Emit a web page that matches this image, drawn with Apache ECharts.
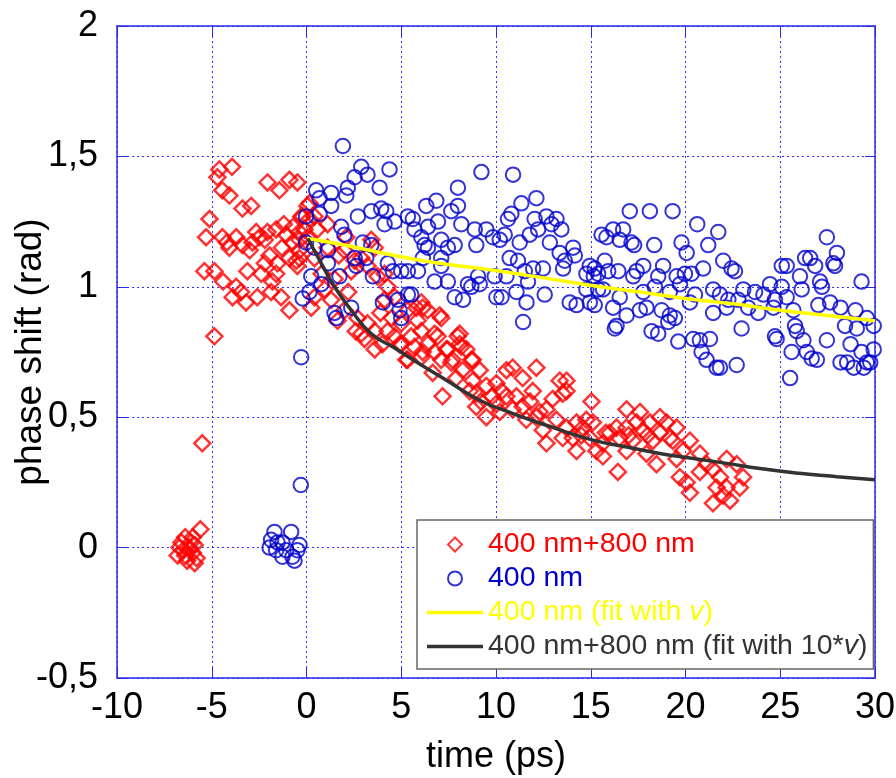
<!DOCTYPE html>
<html>
<head>
<meta charset="utf-8">
<script src="https://cdn.jsdelivr.net/npm/echarts@6/dist/echarts.min.js"></script>
<style>html,body{margin:0;padding:0;background:#fff}#c{width:896px;height:778px}</style>
</head>
<body>
<div id="c"></div>
<script>
// ---- data ----
const xTicks = [-10, -5, 0, 5, 10, 15, 20, 25, 30];
const yTicks = [-0.5, 0, 0.5, 1, 1.5, 2];
const seriesNames = ['400 nm+800 nm', '400 nm', '400 nm (fit with v)', '400 nm+800 nm (fit with 10*v)'];

const redPoints = [
  [-6.8,-0.03],[-6.6,0.02],[-6.4,0.04],[-6.2,0.0],[-6.0,-0.02],[-6.3,-0.05],[-5.9,0.01],[-6.5,-0.01],
  [-6.1,0.02],[-5.8,-0.04],[-5.6,0.07],[-6.7,0.0],[-6.0,0.04],[-5.9,-0.06],[-6.4,-0.03],
  [-5.5,0.40],[-4.86,0.81],
  [-4.6,1.45],[-3.93,1.46],[-4.7,1.42],[-4.44,1.37],[-4.07,1.35],[-3.38,1.30],[-2.92,1.31],[-2.06,1.40],
  [-1.43,1.37],[-0.9,1.41],[-0.48,1.40],[-5.12,1.26],[-5.3,1.19],[-4.44,1.19],[-4.07,1.15],[-3.71,1.19],
  [-3.38,1.16],[-2.85,1.17],[-2.48,1.19],[-2.06,1.21],[-1.6,1.22],[-1.07,1.20],[-1.95,1.12],[-1.53,1.09],
  [-0.9,1.11],[-0.54,1.10],[-5.39,1.06],[-4.86,1.06],[-3.12,1.06],[-2.39,1.05],[-1.8,1.02],[-3.71,1.0],
  [-3.9,0.96],[-3.45,0.98],[-3.19,0.94],[-1.87,0.98],[-1.34,0.96],[-0.9,0.91],[-0.2,1.27],[-0.37,1.21],
  [-0.74,1.17],[-0.37,1.14],[0.16,1.26],[0.05,1.19],[0.16,1.32],[0.42,1.27],
  [-4.2,1.17],[-3.0,1.14],[-2.65,1.21],[-2.2,1.18],[-1.3,1.15],[-1.2,1.24],[-0.7,1.23],[-2.2,1.09],
  [-1.6,1.05],[-2.6,0.96],[-4.4,1.02],
  [0.05,1.31],[-0.28,1.27],[1.11,1.24],[-0.1,1.22],[0.58,1.22],[-0.37,1.18],[-0.37,1.11],[-0.48,1.08],
  [0.42,1.11],[1.11,1.15],[2.0,1.14],[2.1,1.19],[2.54,1.10],[3.42,1.18],[3.6,1.15],[2.89,1.11],
  [2.36,1.06],[3.22,1.08],[3.75,1.04],[4.12,1.05],[4.28,1.0],[4.12,0.95],[4.65,0.96],[1.48,1.03],
  [0.95,0.99],[0.42,0.96],[1.3,0.95],[0.25,0.92],[2.0,0.91],[1.64,0.87],[2.69,0.88],[3.22,0.86],
  [2.89,0.82],[3.6,0.83],[3.06,0.80],[3.6,0.76],[4.28,0.83],[4.65,0.81],[5.0,0.86],[5.34,0.91],
  [0.8,1.05],[1.7,1.12],[2.2,0.98],[3.9,0.90],[4.5,0.88],[4.0,0.78],[2.6,0.83],[5.8,0.92],
  [6.06,0.94],[6.39,0.91],[7.11,0.88],[5.86,0.87],[6.06,0.83],[6.76,0.82],[5.53,0.81],[5.0,0.78],
  [5.7,0.77],[6.39,0.78],[6.92,0.81],[5.34,0.72],[6.06,0.73],[6.76,0.75],[7.45,0.76],[7.98,0.81],
  [8.17,0.77],[8.7,0.72],[7.64,0.71],[7.11,0.72],
  [6.13,0.92],[7.03,0.89],[8.08,0.82],[8.08,0.78],[8.44,0.76],[7.38,0.76],[7.71,0.72],[8.77,0.72],
  [8.24,0.68],[9.14,0.68],[8.77,0.64],[9.49,0.62],[10.02,0.63],[7.18,0.58],[8.96,0.54],[9.49,0.50],
  [10.2,0.52],[10.55,0.68],[10.88,0.69],[12.13,0.69],[11.41,0.65],[11.94,0.60],[11.08,0.58],[10.55,0.58],
  [11.41,0.54],[10.88,0.53],[12.13,0.50],[11.6,0.49],[12.66,0.53],[12.99,0.57],[13.36,0.64],[13.52,0.59],
  [13.19,0.49],[12.47,0.45],[12.66,0.40],[13.52,0.42],[5.27,0.72],[4.91,0.78],[6.13,0.75],[6.66,0.67],
  [8.96,0.59],[7.9,0.65],[8.61,0.60],[9.8,0.58],[10.3,0.60],[9.2,0.56],[11.8,0.56],[12.3,0.52],[10.0,0.55],
  [13.72,0.64],[13.72,0.60],[15.04,0.56],[14.25,0.48],[14.05,0.42],[14.25,0.37],[15.11,0.48],[14.95,0.42],
  [15.3,0.37],[15.64,0.35],[16.0,0.44],[16.36,0.46],[16.89,0.53],[16.43,0.29],[16.89,0.46],[17.42,0.48],
  [17.22,0.41],[17.75,0.45],[17.94,0.36],[18.47,0.32],[18.12,0.48],[18.65,0.50],[19.0,0.48],[19.53,0.46],
  [18.65,0.44],[18.28,0.41],[19.33,0.41],[19.53,0.34],[20.23,0.41],[19.86,0.37],[19.7,0.27],[20.06,0.25],
  [20.23,0.21],[20.76,0.36],[21.11,0.32],[20.76,0.29],[21.45,0.30],[21.82,0.27],[21.64,0.23],[22.17,0.23],
  [21.45,0.17],[22.35,0.18],[22.87,0.23],[23.04,0.27],[22.7,0.32],[22.17,0.34],[21.98,0.20],[13.72,0.46],
  [14.58,0.46],[14.77,0.49],[15.64,0.40],[17.6,0.52],[19.17,0.42],[16.89,0.37],[16.5,0.42],[17.0,0.43],
  [18.0,0.43],[15.8,0.44],[14.5,0.43]
];

const bluePoints = [
  [-1.69,0.06],[-0.81,0.06],[-1.87,0.03],[-1.95,0.0],[-1.53,0.02],[-1.27,0.02],[-1.07,-0.01],[-0.74,-0.035],
  [-0.48,-0.01],[-0.37,0.01],[-1.27,-0.035],[-0.63,-0.05],[-1.6,-0.01],[-0.3,0.24],[-0.28,0.73],
  [1.92,1.54],[2.89,1.46],[3.22,1.43],[2.54,1.42],[4.38,1.45],[2.18,1.38],[3.86,1.38],[0.51,1.37],
  [1.3,1.36],[0.69,1.34],[2.1,1.35],[1.3,1.31],[-0.02,1.27],[0.69,1.28],[2.71,1.27],[3.42,1.29],
  [3.94,1.30],[4.21,1.29],[4.12,1.24],[4.65,1.25],[1.83,1.23],[2.0,1.20],[-0.02,1.17],[0.42,1.15],
  [1.13,1.14],[2.97,1.17],[3.42,1.16],[2.54,1.11],[3.15,1.11],[1.13,1.09],[2.63,1.08],[4.29,1.09],
  [4.56,1.06],[3.5,1.04],[1.74,1.04],[0.25,1.04],[0.78,1.01],[0.16,0.98],[-0.2,0.955],[5.0,1.06],
  [5.35,0.97],[4.03,0.94],[4.82,0.95],[4.91,0.91],[5.0,0.88],[2.36,0.92],[1.48,0.90],[1.57,0.88],
  [5.35,1.27],[5.61,1.26],[5.7,1.22],[6.06,1.19],[6.41,1.23],[6.32,1.31],[6.85,1.33],[6.94,1.25],
  [7.64,1.29],[7.99,1.38],[7.99,1.31],[8.17,1.24],[8.88,1.22],[9.23,1.44],[6.41,1.15],[6.23,1.16],
  [7.11,1.18],[7.46,1.15],[7.82,1.16],[8.96,1.16],[7.11,1.11],[6.14,1.11],[7.11,1.08],[6.76,1.02],
  [7.46,1.02],[5.88,1.06],[5.35,1.06],[7.82,0.96],[8.26,0.95],[8.52,1.01],[8.7,1.0],[9.14,1.01],
  [9.05,1.04],[5.53,0.97],
  [10.9,1.43],[12.13,1.34],[11.34,1.32],[10.81,1.28],[10.63,1.26],[12.04,1.26],[12.66,1.27],
  [13.19,1.26],[13.45,1.22],[12.93,1.24],[12.22,1.22],[11.78,1.20],[9.49,1.22],[9.84,1.19],[10.2,1.18],
  [10.46,1.20],[11.25,1.17],[12.84,1.17],[13.36,1.13],[14.07,1.15],[14.16,1.12],[13.63,1.10],[13.54,1.07],
  [10.72,1.11],[11.16,1.10],[11.96,1.07],[12.48,1.07],[11.52,1.06],[9.93,1.04],[10.55,1.04],[11.69,1.02],
  [11.08,0.98],[10.02,0.96],[10.29,0.96],[12.57,0.97],[11.61,0.94],[11.43,0.865],[15.16,1.04],[13.89,0.94],
  [14.25,0.93],[14.77,1.05],[14.95,1.08],[15.21,1.07],[15.74,1.10],[15.39,1.05],[15.92,1.06],[16.45,1.06],
  [14.95,0.94],[15.21,0.93],[14.77,0.99],[15.39,0.99],[16.18,0.92],[16.89,0.89],[16.53,0.96],[16.36,0.85],
  [17.06,1.29],[16.71,1.22],[16.18,1.22],[15.57,1.20],[15.83,1.19],[16.53,1.18],[17.15,1.17],[17.42,1.06],
  [18.12,1.29],[19.32,1.29],[20.62,1.24],[21.73,1.21],[19.79,1.17],[20.06,1.13],[21.2,1.16],[18.35,1.16],
  [17.29,1.16],[21.99,1.10],[22.43,1.07],[22.61,1.06],[20.93,1.07],[18.82,1.08],[17.77,1.08],[17.24,1.04],
  [18.56,1.04],[19.53,1.04],[19.97,1.05],[20.32,1.05],[17.77,0.98],[18.38,1.0],[19.17,0.98],[19.71,1.01],
  [20.5,0.97],[21.46,0.99],[21.82,0.97],[22.26,0.95],[22.79,0.95],[23.05,0.99],[23.67,0.98],[24.11,0.97],
  [24.46,1.01],[25.08,1.08],[25.34,1.08],[26.04,1.04],[26.13,0.99],[26.31,1.11],[26.58,1.11],[26.84,1.08],
  [27.1,1.02],[27.2,1.0],[27.46,1.19],[27.99,1.13],[27.8,1.09],[27.89,1.08],[29.29,1.02],[25.08,1.0],
  [24.72,0.95],[25.34,0.96],[25.69,0.91],[27.01,0.93],[27.63,0.94],[28.18,0.92],[28.97,0.91],[29.57,0.88],
  [29.93,0.85],[15.65,0.99],[16.27,0.84],[17.59,0.91],[17.94,0.92],[18.74,0.91],[19.17,0.89],[19.44,0.88],
  [19.09,0.865],[18.21,0.83],[18.56,0.82],[19.62,0.79],[20.41,0.80],[20.76,0.795],[21.29,0.80],[20.85,0.75],
  [21.11,0.72],[21.64,0.69],[21.82,0.69],[22.7,0.70],[22.96,0.84],[21.46,0.90],[20.23,0.94],[22.17,0.92],
  [23.31,0.92],[23.84,0.90],[24.64,0.92],[24.72,0.81],[24.81,0.80],[25.78,0.85],[25.87,0.83],[26.22,0.795],
  [26.4,0.75],[26.93,0.72],[26.66,0.725],[25.6,0.75],[25.52,0.65],[27.46,0.795],[28.42,0.85],[29.04,0.84],
  [28.71,0.78],[29.29,0.75],[29.93,0.76],[28.18,0.71],[28.53,0.71],[28.88,0.69],[29.41,0.69],[29.57,0.71],
  [29.75,0.71]
];

const yellowFit = [
  [0.05,1.185],[2,1.16],[4.65,1.12],[7,1.09],[9.2,1.07],[12,1.04],[15.5,1.0],[17.6,0.98],
  [20,0.955],[22.5,0.935],[25,0.91],[27.5,0.89],[30,0.87]
];
const blackFit = [
  [0.07,1.185],[0.78,1.09],[1.48,1.0],[2.36,0.91],[3.42,0.82],[4.65,0.765],[6.06,0.70],[7.38,0.642],
  [9.14,0.565],[10.9,0.514],[12.66,0.469],[15.12,0.412],[16.89,0.386],[18.65,0.361],[20.41,0.342],
  [22.17,0.323],[23.93,0.303],[26,0.285],[28,0.272],[30,0.26]
];

// ---- chart ----
const FONT = '"Liberation Sans", Arial, sans-serif';
const AXIS_BLUE = '#2a2aee';
const GRID_BLUE = '#0000ff';
const fmt = v => String(v).replace('.', ',');

const chart = echarts.init(document.getElementById('c'), null, {renderer: 'canvas'});

const commonX = {
  type: 'value', min: xTicks[0], max: xTicks[xTicks.length - 1], interval: 5
};
const commonY = {
  type: 'value', min: yTicks[0], max: yTicks[yTicks.length - 1], interval: 0.5
};

chart.setOption({
  animation: false,
  backgroundColor: '#fff',
  grid: {left: 117, right: 21, top: 26, bottom: 100, containLabel: false, outerBoundsMode: 'none'},
  xAxis: [
    Object.assign({}, commonX, {
      position: 'bottom',
      name: 'time (ps)', nameLocation: 'middle', nameGap: 61, nameMoveOverlap: false,
      nameTextStyle: {fontSize: 36, fontFamily: FONT, color: '#000'},
      axisLine: {onZero: false, lineStyle: {color: AXIS_BLUE, width: 1.5}},
      axisTick: {inside: true, length: 10, lineStyle: {color: AXIS_BLUE, width: 1}},
      axisLabel: {fontSize: 36, fontFamily: FONT, color: '#000', margin: 12, formatter: fmt},
      splitLine: {show: true, lineStyle: {color: GRID_BLUE, type: [2, 3], width: 1, opacity: 0.8}}
    }),
    Object.assign({}, commonX, {
      position: 'top',
      axisLine: {onZero: false, lineStyle: {color: AXIS_BLUE, width: 1.5}},
      axisTick: {inside: true, length: 10, lineStyle: {color: AXIS_BLUE, width: 1}},
      axisLabel: {show: false}, splitLine: {show: false}
    })
  ],
  yAxis: [
    Object.assign({}, commonY, {
      position: 'left',
      name: 'phase shift (rad)', nameLocation: 'middle', nameGap: 68, nameMoveOverlap: false,
      nameTextStyle: {fontSize: 37, fontFamily: FONT, color: '#000'},
      axisLine: {onZero: false, lineStyle: {color: AXIS_BLUE, width: 1.5}},
      axisTick: {inside: true, length: 10, lineStyle: {color: AXIS_BLUE, width: 1}},
      axisLabel: {fontSize: 36, fontFamily: FONT, color: '#000', margin: 19, formatter: fmt},
      splitLine: {show: true, lineStyle: {color: GRID_BLUE, type: [2, 3], width: 1, opacity: 0.8}}
    }),
    Object.assign({}, commonY, {
      position: 'right',
      axisLine: {onZero: false, lineStyle: {color: AXIS_BLUE, width: 1.5}},
      axisTick: {inside: true, length: 10, lineStyle: {color: AXIS_BLUE, width: 1}},
      axisLabel: {show: false}, splitLine: {show: false}
    })
  ],
  legend: {
    orient: 'vertical', left: 417, top: 520,
    backgroundColor: '#fff', borderColor: '#666', borderWidth: 1.5, borderRadius: 0,
    padding: [10, 6, 8, 10], itemGap: 5, itemWidth: 56, itemHeight: 14,
    symbolKeepAspect: true,
    textStyle: {
      fontSize: 28.5, fontFamily: FONT,
      rich: {
        iy: {fontSize: 28.5, fontFamily: FONT, fontStyle: 'italic', color: '#ffff00'},
        ik: {fontSize: 28.5, fontFamily: FONT, fontStyle: 'italic', color: '#333333'}
      }
    },
    formatter: function (name) {
      if (name === seriesNames[2]) return '400 nm (fit with {iy|v})';
      if (name === seriesNames[3]) return '400 nm+800 nm (fit with 10*{ik|v})';
      return name;
    },
    data: [
      {name: seriesNames[0], icon: 'path://M0,-7L7,0L0,7L-7,0Z', textStyle: {color: '#ff0000'}},
      {name: seriesNames[1], icon: 'circle', textStyle: {color: '#0000cc'}},
      {name: seriesNames[2], icon: 'path://M0,0L56,0L56,3.5L0,3.5Z', textStyle: {color: '#ffff00'}},
      {name: seriesNames[3], icon: 'path://M0,0L56,0L56,3.5L0,3.5Z', textStyle: {color: '#333333'}}
    ]
  },
  series: [
    {
      name: seriesNames[0], type: 'scatter', data: redPoints,
      symbol: 'diamond', symbolSize: 16,
      itemStyle: {color: 'rgba(255,255,255,0)', borderColor: '#ff0000', borderWidth: 2.5}
    },
    {
      name: seriesNames[1], type: 'scatter', data: bluePoints,
      symbol: 'circle', symbolSize: 14.5,
      itemStyle: {color: 'rgba(255,255,255,0)', borderColor: '#0000cc', borderWidth: 2}
    },
    {
      name: seriesNames[2], type: 'line', data: yellowFit, smooth: true,
      symbol: 'none', lineStyle: {color: '#ffff00', width: 3.5}, itemStyle: {color: '#ffff00'}
    },
    {
      name: seriesNames[3], type: 'line', data: blackFit, smooth: true,
      symbol: 'none', lineStyle: {color: '#333333', width: 3.5}, itemStyle: {color: '#333333'}
    }
  ]
});
</script>
</body>
</html>
